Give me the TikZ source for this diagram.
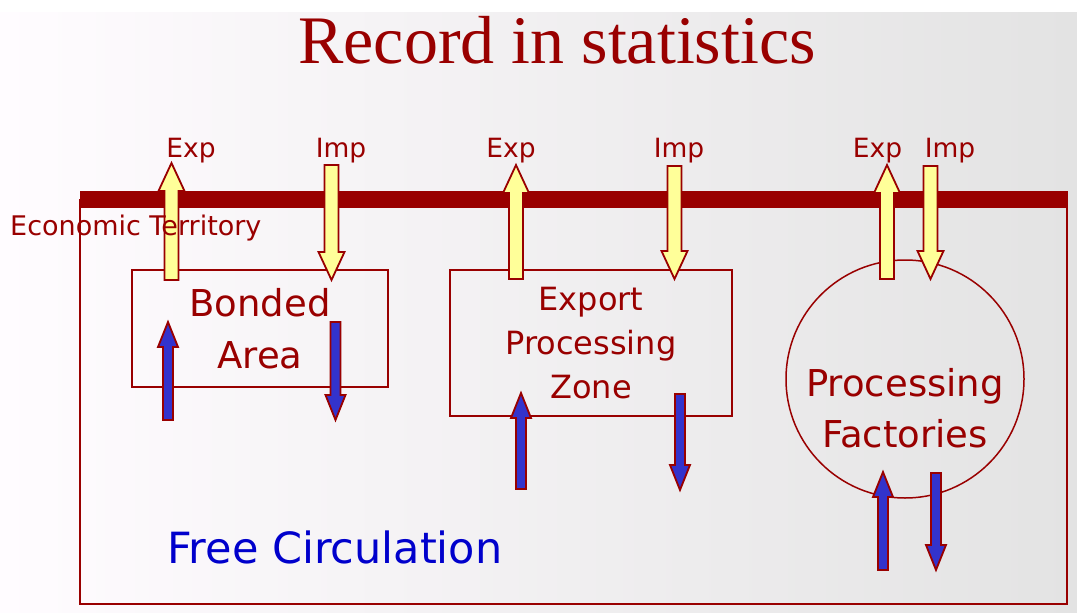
\documentclass[tikz,border=0pt]{standalone}
\usepackage{fontspec}
\usepackage{xcolor}
\usetikzlibrary{calc, positioning}

\newfontfamily\titlefont{Liberation Serif}
\newfontfamily\slidefont{DejaVu Sans}

\definecolor{darkred}{RGB}{153,0,0}
\definecolor{paleyellow}{RGB}{255,255,153}
\definecolor{flowblue}{RGB}{51,51,204}
\definecolor{textblue}{RGB}{0,0,204}

% block arrow: style, from, to, half shaft, half head, head length
\newcommand{\blockarrow}[6]{%
  \coordinate (hd) at ($(#3)!#6!(#2)$);
  \filldraw[#1] ($(#2)!#4!90:(#3)$) -- ($(hd)!#4!90:(#3)$) -- ($(hd)!#5!90:(#3)$) -- (#3)
    -- ($(hd)!#5!-90:(#3)$) -- ($(hd)!#4!-90:(#3)$) -- ($(#2)!#4!-90:(#3)$) -- cycle;
}
\newcommand{\yarrow}[2]{\blockarrow{custom}{#1}{#2}{7pt}{13pt}{28pt}}
\newcommand{\barrow}[2]{\blockarrow{flow}{#1}{#2}{5pt}{10pt}{25pt}}

\tikzset{
  custom/.style={fill=paleyellow, draw=darkred, line width=1.8pt, line join=miter},
  flow/.style={fill=flowblue, draw=darkred, line width=1.8pt, line join=miter},
  area/.style={draw=darkred, line width=1.5pt, text=darkred, align=center, inner sep=0pt},
  tag/.style={text=darkred, inner sep=0pt, font=\slidefont\fontsize{26.5}{30}\selectfont}
}

\begin{document}
\begin{tikzpicture}[x=1pt, y=-1pt]
    \useasboundingbox (0,0) rectangle (1077,613);
    \fill[white] (0,0) rectangle (1077,613);
    \fill[left color=white!97!magenta!40!white, right color=black!11] (0,12) rectangle (1077,613);

    \node[anchor=base, text=darkred, inner sep=0pt, font=\titlefont\fontsize{68}{80}\selectfont] (title) at (557,63) {Record in statistics};

    % economic territory
    \draw[darkred, line width=1.5pt] (80,200) rectangle (1067,604);
    \fill[darkred] (80,191) rectangle (1068,208);

    % areas
    \node[area, minimum width=256pt, minimum height=117pt, font=\slidefont\fontsize{37}{52}\selectfont] (bonded) at (260,328.5) {Bonded\\Area};
    \node[area, minimum width=282pt, minimum height=146pt, font=\slidefont\fontsize{32}{44}\selectfont] (epz) at (591,343) {Export\\Processing\\Zone};
    \node[draw=darkred, line width=1.5pt, circle, minimum size=238pt, inner sep=0pt] (fact) at (905,379) {};
    \node[text=darkred, align=center, inner sep=0pt, font=\slidefont\fontsize{37}{51}\selectfont] (factlbl) at (905,408) {Processing\\Factories};

    \node[anchor=base west, text=textblue, inner sep=0pt, font=\slidefont\fontsize{43}{50}\selectfont] (free) at (167,563) {Free Circulation};

    % exp / imp labels
    \node[tag, anchor=base] (exp1) at (191,157) {Exp};
    \node[tag, anchor=base] (imp1) at (341,157) {Imp};
    \node[tag, anchor=base] (exp2) at (511,157) {Exp};
    \node[tag, anchor=base] (imp2) at (679,157) {Imp};
    \node[tag, anchor=base] (exp3) at (877.5,157) {Exp};
    \node[tag, anchor=base] (imp3) at (950,157) {Imp};

    % arrow ends
    \coordinate (ex1a) at (171.5,280); \coordinate (ex1b) at (171.5,163);
    \coordinate (im1a) at (331.5,165); \coordinate (im1b) at (331.5,280);
    \coordinate (ex2a) at (516,279);   \coordinate (ex2b) at (516,165);
    \coordinate (im2a) at (674.5,166); \coordinate (im2b) at (674.5,279);
    \coordinate (ex3a) at (887,279);   \coordinate (ex3b) at (887,165);
    \coordinate (im3a) at (930.5,166); \coordinate (im3b) at (930.5,279);

    \coordinate (in1a) at (168,420);   \coordinate (in1b) at (168,322);
    \coordinate (out1a) at (335.5,322); \coordinate (out1b) at (335.5,420);
    \coordinate (in2a) at (521,489);   \coordinate (in2b) at (521,393);
    \coordinate (out2a) at (680,394);  \coordinate (out2b) at (680,490);
    \coordinate (in3a) at (883,570);   \coordinate (in3b) at (883,472);
    \coordinate (out3a) at (936,473);  \coordinate (out3b) at (936,570);

    \yarrow{ex1a}{ex1b}
    \yarrow{im1a}{im1b}
    \yarrow{ex2a}{ex2b}
    \yarrow{im2a}{im2b}
    \yarrow{ex3a}{ex3b}
    \yarrow{im3a}{im3b}

    \barrow{in1a}{in1b}
    \barrow{out1a}{out1b}
    \barrow{in2a}{in2b}
    \barrow{out2a}{out2b}
    \barrow{in3a}{in3b}
    \barrow{out3a}{out3b}

    \node[anchor=base west, text=darkred, inner sep=0pt, font=\slidefont\fontsize{27}{30}\selectfont] (eco) at (10,235) {Economic Territory};
\end{tikzpicture}
\end{document}
